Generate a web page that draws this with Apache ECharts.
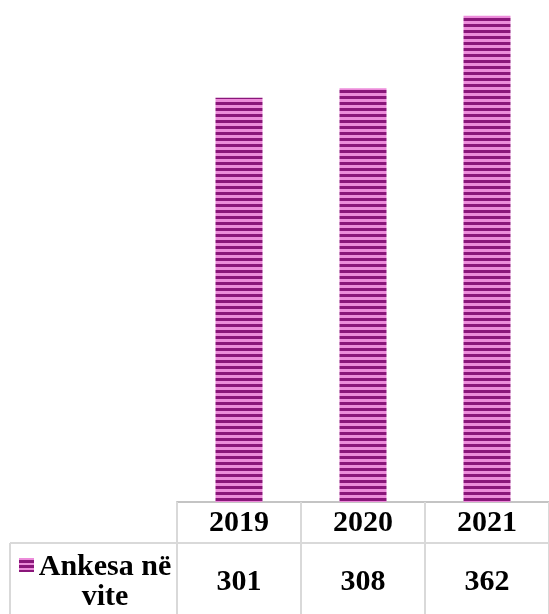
<!DOCTYPE html>
<html>
<head>
<meta charset="utf-8">
<script src="https://cdn.jsdelivr.net/npm/echarts@6/dist/echarts.min.js"></script>
<style>
  html, body { margin: 0; padding: 0; background: #fff; }
  #chart { width: 549px; height: 614px; }
</style>
</head>
<body>
<div id="chart"></div>
<script>
  const years = ['2019', '2020', '2021'];
  const complaints = [301, 308, 362];
  const seriesName = 'Ankesa në vite';

  const font = 'Liberation Serif, Times New Roman, serif';
  const tableLine = '#d9d9d9';
  const dark = '#8a167a';
  const light = '#ec8cda';

  // striped fill for the bars (dark / light magenta rows)
  function stripes() {
    let c = document.createElement('canvas');
    c.width = 8;
    c.height = 6;
    let ctx = c.getContext('2d');
    ctx.fillStyle = light;
    ctx.fillRect(0, 0, 8, 6);
    ctx.fillStyle = dark;
    ctx.fillRect(0, 0, 8, 3);
    return c;
  }

  let chart = echarts.init(document.getElementById('chart'));

  let option = {
    animation: false,
    grid: {
      left: 177,
      right: -2,
      top: 5,
      bottom: 112
    },
    xAxis: [
      {
        type: 'category',
        data: years,
        axisLine: { lineStyle: { color: '#c4c4c4', width: 2 } },
        axisTick: { show: true, length: 112, lineStyle: { color: tableLine, width: 2 } },
        axisLabel: {
          margin: 6,
          fontFamily: font,
          fontWeight: 'bold',
          fontSize: 30,
          lineHeight: 30,
          color: '#000'
        }
      },
      {
        // value row of the data table
        type: 'category',
        position: 'bottom',
        offset: 41,
        data: complaints.map(v => String(v)),
        axisLine: { show: false },
        axisTick: { show: false },
        axisLabel: {
          margin: 24,
          fontFamily: font,
          fontWeight: 'bold',
          fontSize: 30,
          lineHeight: 30,
          color: '#000'
        }
      }
    ],
    yAxis: {
      type: 'value',
      min: 0,
      max: 370,
      show: false,
      splitLine: { show: false }
    },
    series: [
      {
        name: seriesName,
        type: 'bar',
        xAxisIndex: 0,
        barWidth: 47,
        data: complaints,
        itemStyle: {
          color: { image: stripes(), repeat: 'repeat' }
        }
      }
    ],
    graphic: [
      // table borders
      { type: 'line', shape: { x1: 10, y1: 543, x2: 549, y2: 543 }, style: { stroke: tableLine, lineWidth: 2 } },
      { type: 'line', shape: { x1: 10, y1: 543, x2: 10, y2: 614 }, style: { stroke: tableLine, lineWidth: 2 } },
      // legend key
      {
        type: 'rect',
        shape: { x: 19, y: 558, width: 15, height: 14 },
        style: {
          fill: {
            type: 'linear', x: 0, y: 0, x2: 0, y2: 1,
            colorStops: [
              { offset: 0, color: light }, { offset: 0.14, color: light },
              { offset: 0.14, color: dark }, { offset: 0.36, color: dark },
              { offset: 0.36, color: light }, { offset: 0.5, color: light },
              { offset: 0.5, color: dark }, { offset: 0.72, color: dark },
              { offset: 0.72, color: light }, { offset: 0.84, color: light },
              { offset: 0.84, color: dark }, { offset: 1, color: dark }
            ]
          }
        }
      },
      {
        type: 'text',
        x: 105,
        y: 582,
        style: {
          text: 'Ankesa në\nvite',
          font: 'bold 30px ' + font,
          lineHeight: 30,
          fill: '#000',
          align: 'center',
          verticalAlign: 'middle'
        }
      }
    ]
  };

  chart.setOption(option);
</script>
</body>
</html>
